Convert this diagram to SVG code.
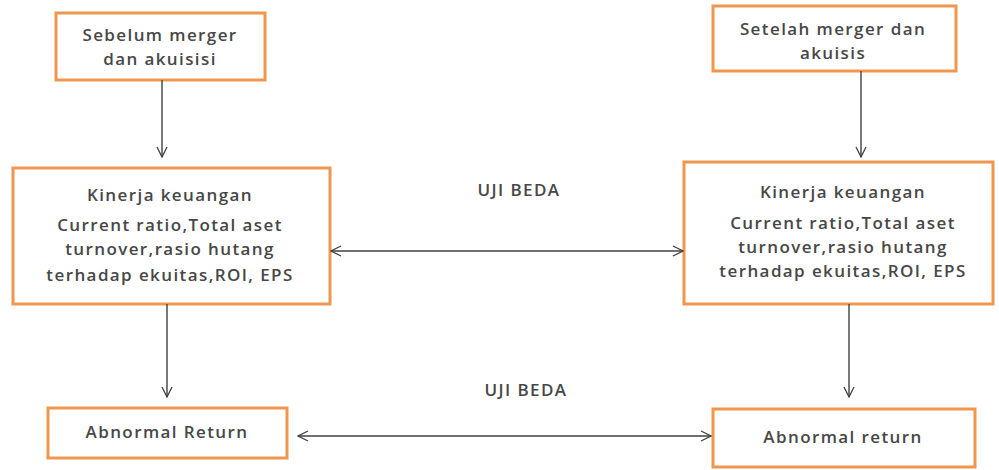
<svg xmlns="http://www.w3.org/2000/svg" width="999" height="470" viewBox="0 0 999 470">
<defs>
<marker id="ah" viewBox="0 0 12 12" refX="11" refY="6" markerWidth="12" markerHeight="12" markerUnits="userSpaceOnUse" orient="auto-start-reverse">
<path d="M1,1 L11,6 L1,11" fill="none" stroke="#404040" stroke-width="1.3"/>
</marker>
<style>
.box{fill:#fff;stroke:#F0964E;stroke-width:3}
.t{font-family:"Open Sans","Liberation Sans",sans-serif;font-size:17px;font-weight:600;letter-spacing:1.4px;fill:#474747;text-anchor:middle}
.c{fill:none;stroke:#404040;stroke-width:1.4}
</style>
</defs>
<rect width="999" height="470" fill="#fff"/>
<g id="n1"><rect class="box" x="56" y="13" width="209" height="67"/>
<text class="t" x="160" y="41">Sebelum merger</text><text class="t" x="160" y="65">dan akuisisi</text></g>
<g id="n2"><rect class="box" x="713" y="6" width="243" height="65"/>
<text class="t" x="833" y="35">Setelah merger dan</text><text class="t" x="833" y="59">akuisis</text></g>
<g id="n3"><rect class="box" x="13" y="168" width="317" height="136"/>
<text class="t" x="170" y="201">Kinerja keuangan</text>
<text class="t" x="170" y="231">Current ratio,Total aset</text>
<text class="t" x="170" y="255">turnover,rasio hutang</text>
<text class="t" x="170" y="281">terhadap ekuitas,ROI, EPS</text></g>
<g id="n4"><rect class="box" x="684" y="162" width="309" height="142"/>
<text class="t" x="843" y="198">Kinerja keuangan</text>
<text class="t" x="843" y="229">Current ratio,Total aset</text>
<text class="t" x="843" y="253">turnover,rasio hutang</text>
<text class="t" x="843" y="277">terhadap ekuitas,ROI, EPS</text></g>
<g id="n5"><rect class="box" x="48" y="408" width="239" height="50"/>
<text class="t" x="167" y="438">Abnormal Return</text></g>
<g id="n6"><rect class="box" x="713" y="409" width="262" height="58"/>
<text class="t" x="843" y="443">Abnormal return</text></g>
<g id="labels">
<text class="t" x="519" y="196">UJI BEDA</text>
<text class="t" x="526" y="396">UJI BEDA</text>
</g>
<g id="connectors">
<line class="c" x1="162" y1="80" x2="162" y2="157" marker-end="url(#ah)"/>
<line class="c" x1="861" y1="71" x2="861" y2="157" marker-end="url(#ah)"/>
<line class="c" x1="167" y1="304" x2="167" y2="397" marker-end="url(#ah)"/>
<line class="c" x1="849" y1="304" x2="849" y2="397" marker-end="url(#ah)"/>
<line class="c" x1="331" y1="251" x2="683" y2="251" marker-start="url(#ah)" marker-end="url(#ah)"/>
<line class="c" x1="298" y1="436" x2="711" y2="436" marker-start="url(#ah)" marker-end="url(#ah)"/>
</g>
</svg>
